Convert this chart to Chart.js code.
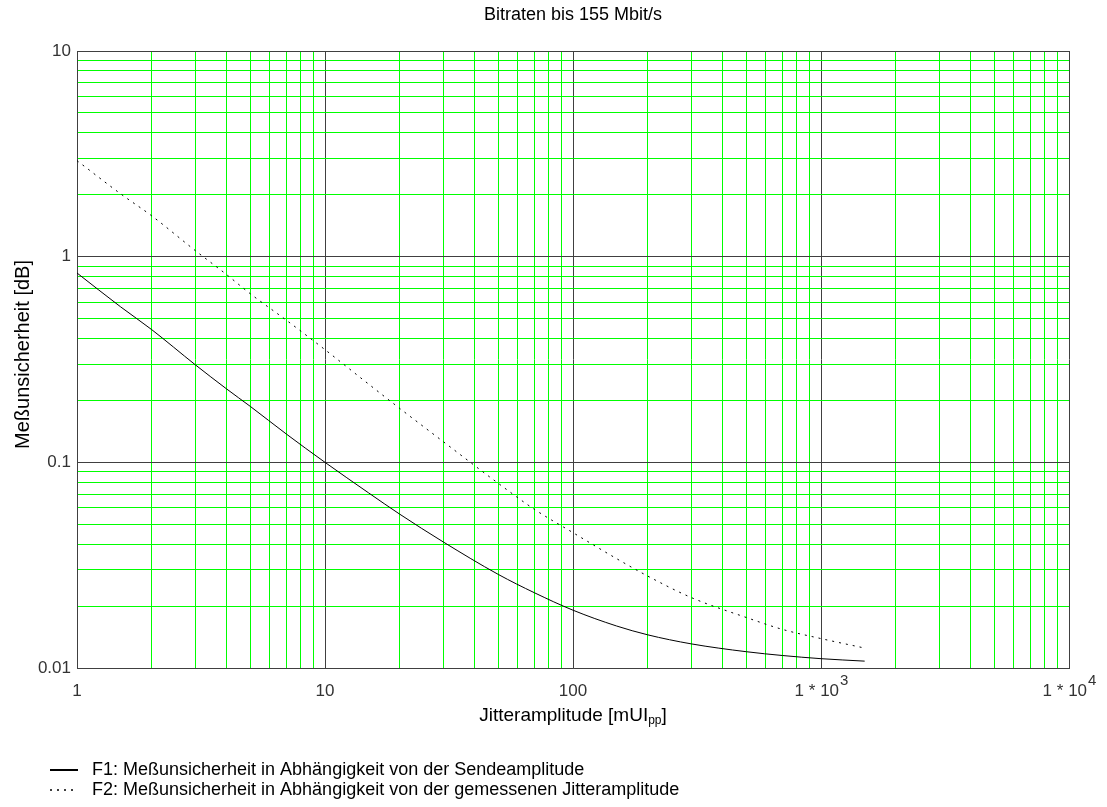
<!DOCTYPE html>
<html>
<head>
<meta charset="utf-8">
<title>Bitraten bis 155 Mbit/s</title>
<script src="https://cdn.jsdelivr.net/npm/chart.js@4"></script>
<style>
  body { margin: 0; background: #fff; }
  #wrap { position: relative; width: 1107px; height: 807px; }
</style>
</head>
<body>
<div id="wrap"><canvas id="jitter-chart"></canvas></div>
<script>
// Jitteramplitude [mUIpp]
const jitter = [1, 1.5, 2, 3, 4, 5, 7, 10, 15, 20, 30, 50, 70, 100, 150, 200, 300, 500, 700, 1000, 1500];
// F1: Messunsicherheit abh. von der Sendeamplitude [dB]
const f1 = [0.833, 0.57, 0.442, 0.298, 0.228, 0.187, 0.137, 0.100, 0.071, 0.056, 0.041, 0.0285, 0.0232, 0.0191, 0.0160, 0.0145, 0.0131, 0.0120, 0.0115, 0.0111, 0.0108];
// F2: Messunsicherheit abh. von der gemessenen Jitteramplitude [dB]
const f2 = [2.93, 2.02, 1.58, 1.07, 0.82, 0.66, 0.49, 0.353, 0.24, 0.183, 0.126, 0.079, 0.059, 0.0455, 0.034, 0.028, 0.022, 0.0176, 0.0154, 0.0139, 0.0125];

const xDecades = [1, 10, 100, 1000, 10000];
const xTickLabels = [["1", ""], ["10", ""], ["100", ""], ["1 * 10", "3"], ["1 * 10", "4"]];
const yDecades = [0.01, 0.1, 1, 10];
const yTickLabels = ["0.01", "0.1", "1", "10"];
const gridSteps = [1, 2, 3, 4, 5, 6, 7, 8, 9];

const titleText = "Bitraten bis 155 Mbit/s";
const xTitle = ["Jitteramplitude [mUI", "pp", "]"];
const yTitle = "Meßunsicherheit [dB]";
const legendLabels = [
  "F1: Meßunsicherheit in Abhängigkeit von der Sendeamplitude",
  "F2: Meßunsicherheit in Abhängigkeit von der gemessenen Jitteramplitude"
];

const FONT = '"Liberation Sans", Arial, sans-serif';
const GREEN = '#00ff00';
const DARK = '#404040';

function logGrid(decades) {
  const out = [];
  decades.forEach((d, i) => {
    if (i === decades.length - 1) { out.push(d); return; }
    gridSteps.forEach(s => out.push(+(d * s).toPrecision(3)));
  });
  return out;
}
function isDecade(v) {
  const l = Math.log10(v);
  return Math.abs(l - Math.round(l)) < 1e-9;
}
function gridColor(ctx) {
  return ctx.tick && isDecade(ctx.tick.value) ? DARK : GREEN;
}

const textPlugin = {
  id: 'textPlugin',
  afterDraw(chart) {
    const c = chart.ctx;
    const a = chart.chartArea;
    const xs = chart.scales.x, ys = chart.scales.y;
    const midX = (a.left + a.right) / 2;
    c.save();
    c.fillStyle = '#000';

    // title
    c.font = '18px ' + FONT;
    c.textAlign = 'center';
    c.textBaseline = 'middle';
    c.fillText(titleText, midX, 15);

    // y tick labels
    c.fillStyle = '#333';
    c.font = '17px ' + FONT;
    c.textAlign = 'right';
    yDecades.forEach((v, i) => {
      c.fillText(yTickLabels[i], a.left - 6, ys.getPixelForValue(v));
    });

    // x tick labels (with superscript)
    c.textAlign = 'left';
    c.textBaseline = 'alphabetic';
    xDecades.forEach((v, i) => {
      const [base, sup] = xTickLabels[i];
      c.font = '17px ' + FONT;
      const wb = c.measureText(base).width;
      c.font = '15px ' + FONT;
      const ws = sup ? c.measureText(sup).width : 0;
      const x0 = xs.getPixelForValue(v) - (wb + ws) / 2;
      c.font = '17px ' + FONT;
      c.fillText(base, x0, a.bottom + 28);
      if (sup) {
        c.font = '15px ' + FONT;
        c.fillText(sup, x0 + wb + 1, a.bottom + 17);
      }
    });

    // x axis title with subscript
    c.fillStyle = '#000';
    c.font = '19px ' + FONT;
    const w0 = c.measureText(xTitle[0]).width;
    const w2 = c.measureText(xTitle[2]).width;
    c.font = '12px ' + FONT;
    const w1 = c.measureText(xTitle[1]).width;
    let tx = midX - (w0 + w1 + w2) / 2;
    const ty = a.bottom + 53;
    c.font = '19px ' + FONT;
    c.fillText(xTitle[0], tx, ty);
    tx += w0;
    c.font = '12px ' + FONT;
    c.fillText(xTitle[1], tx, ty + 3);
    tx += w1;
    c.font = '19px ' + FONT;
    c.fillText(xTitle[2], tx, ty);

    // y axis title
    c.save();
    c.translate(29, (a.top + a.bottom) / 2 - 5);
    c.rotate(-Math.PI / 2);
    c.textAlign = 'center';
    c.font = '20px ' + FONT;
    c.fillText(yTitle, 0, 0);
    c.restore();

    // legend
    c.strokeStyle = '#000';
    c.lineWidth = 2;
    c.beginPath(); c.moveTo(50, 770); c.lineTo(78, 770); c.stroke();
    c.lineWidth = 1.5;
    c.setLineDash([2, 5]);
    c.beginPath(); c.moveTo(50, 790); c.lineTo(78, 790); c.stroke();
    c.setLineDash([]);
    c.font = '18px ' + FONT;
    c.textAlign = 'left';
    c.textBaseline = 'middle';
    c.fillText(legendLabels[0], 92, 770);
    c.fillText(legendLabels[1], 92, 790);
    c.restore();
  }
};

new Chart(document.getElementById('jitter-chart'), {
  type: 'line',
  data: {
    datasets: [
      {
        label: legendLabels[0],
        data: jitter.map((x, i) => ({ x: x, y: f1[i] })),
        borderColor: '#000',
        borderWidth: 1,
        pointRadius: 0,
        cubicInterpolationMode: 'monotone',
        fill: false
      },
      {
        label: legendLabels[1],
        data: jitter.map((x, i) => ({ x: x, y: f2[i] })),
        borderColor: '#000',
        borderWidth: 1,
        borderDash: [2, 5],
        pointRadius: 0,
        cubicInterpolationMode: 'monotone',
        fill: false
      }
    ]
  },
  options: {
    responsive: true,
    maintainAspectRatio: false,
    animation: false,
    layout: { padding: { left: 77, top: 51, right: 38, bottom: 139 } },
    plugins: {
      legend: { display: false },
      title: { display: false },
      tooltip: { enabled: false }
    },
    scales: {
      x: {
        type: 'logarithmic',
        min: xDecades[0],
        max: xDecades[xDecades.length - 1],
        afterBuildTicks: s => { s.ticks = logGrid(xDecades).map(v => ({ value: v })); },
        ticks: { display: false },
        grid: { color: gridColor, lineWidth: 1, drawTicks: false },
        border: { color: DARK, width: 1 }
      },
      y: {
        type: 'logarithmic',
        min: yDecades[0],
        max: yDecades[yDecades.length - 1],
        afterBuildTicks: s => { s.ticks = logGrid(yDecades).map(v => ({ value: v })); },
        ticks: { display: false },
        grid: { color: gridColor, lineWidth: 1, drawTicks: false },
        border: { color: DARK, width: 1 }
      }
    }
  },
  plugins: [textPlugin]
});
</script>
</body>
</html>
